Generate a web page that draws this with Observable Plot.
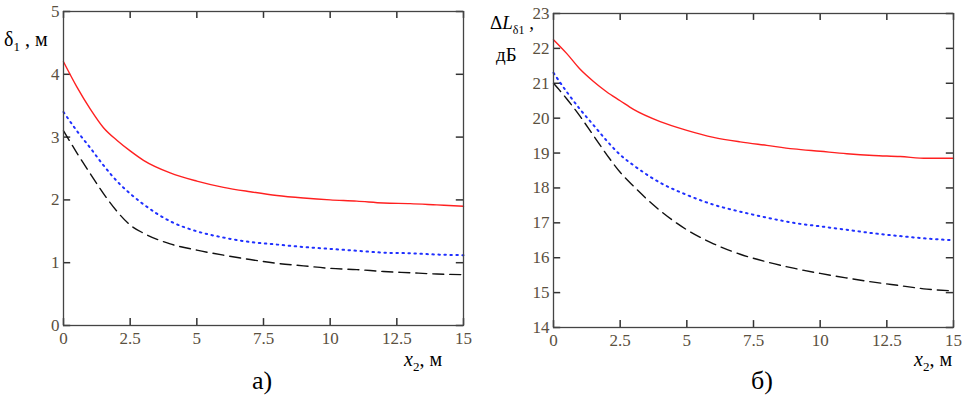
<!DOCTYPE html>
<html><head><meta charset="utf-8">
<script src="https://cdn.jsdelivr.net/npm/d3@7"></script>
<script src="https://cdn.jsdelivr.net/npm/@observablehq/plot@0.6"></script>
<style>
body{margin:0;background:#fff;font-family:"Liberation Serif","DejaVu Serif",serif;}
#wrap{position:relative;width:979px;height:403px;}
.p{position:absolute;top:0;}
.t{position:absolute;color:#000;font-family:"Liberation Serif","DejaVu Serif",serif;white-space:nowrap;}
</style></head><body>
<div id="wrap">
<div class="p" id="a" style="left:0"></div>
<div class="p" id="b" style="left:490px"></div>
<div class="t" style="left:4px;top:28px;font-size:20px">δ<sub style="font-size:13px">1</sub> , м</div>
<div class="t" style="left:404px;top:348px;font-size:20px"><i>x</i><sub style="font-size:13px">2</sub>, м</div>
<div class="t" style="left:252px;top:366px;font-size:26px">а)</div>
<div class="t" style="left:490px;top:12px;font-size:19px">Δ<i>L</i><sub style="font-size:12px">δ1</sub> ,</div>
<div class="t" style="left:496px;top:44px;font-size:19px">дБ</div>
<div class="t" style="left:914px;top:348px;font-size:20px"><i>x</i><sub style="font-size:13px">2</sub>, м</div>
<div class="t" style="left:751px;top:366px;font-size:26px">б)</div>
</div>
<script>
const xs = [0,0.5,1,1.5,2,2.5,3,4,5,6,7,8,9,10,11,12,13,14,15];
const xTicks = [0,2.5,5,7.5,10,12.5,15];
const xTickLabels = ["0","2.5","5","7.5","10","12.5","15"];
const aRed   = [4.2,3.8,3.45,3.15,2.95,2.78,2.63,2.43,2.3,2.2,2.13,2.07,2.03,2.0,1.98,1.95,1.94,1.92,1.9];
const aBlue  = [3.4,3.1,2.83,2.55,2.3,2.1,1.93,1.66,1.5,1.4,1.33,1.29,1.25,1.22,1.19,1.16,1.15,1.13,1.12];
const aBlack = [3.1,2.75,2.42,2.1,1.82,1.6,1.47,1.3,1.2,1.12,1.05,0.99,0.95,0.91,0.89,0.86,0.84,0.82,0.81];
const aYTicks = [0,1,2,3,4,5];
const bRed   = [22.25,21.85,21.4,21.05,20.75,20.5,20.25,19.9,19.65,19.45,19.32,19.22,19.12,19.05,18.98,18.93,18.9,18.85,18.85];
const bBlue  = [21.3,20.75,20.25,19.8,19.35,18.95,18.65,18.15,17.8,17.52,17.32,17.15,17.0,16.9,16.8,16.7,16.62,16.55,16.5];
const bBlack = [21.0,20.55,20.05,19.5,18.95,18.45,18.05,17.35,16.8,16.4,16.1,15.88,15.7,15.55,15.42,15.3,15.2,15.1,15.05];
const bYTicks = [14,15,16,17,18,19,20,21,22,23];

function panel(el, w, ml, mr, mt, mb, yDom, yTicks, red, blue, black) {
  const tx = 0.27, ty = (yDom[1]-yDom[0]) * 0.022;
  const rows = s => xs.map((x,i)=>({x, y:s[i]}));
  const p = Plot.plot({
    width: w, height: 403, marginLeft: ml, marginRight: mr, marginTop: mt, marginBottom: mb,
    style: {fontFamily: "'Liberation Serif', 'DejaVu Serif', serif", fontSize: "17px", color: "#5a5040", background: "#fff"},
    x: {domain: [0,15], ticks: xTicks, tickFormat: (d,i)=>xTickLabels[i], tickSize: 0, tickPadding: 6, label: null},
    y: {domain: yDom, ticks: yTicks, tickFormat: d=>String(d), tickSize: 0, tickPadding: 4, label: null},
    marks: [
      Plot.ruleY(yTicks, {y: d=>d, x1: 0, x2: tx, stroke: "#333", strokeWidth: 1.5}),
      Plot.ruleY(yTicks, {y: d=>d, x1: 15-tx, x2: 15, stroke: "#333", strokeWidth: 1.5}),
      Plot.ruleX(xTicks, {x: d=>d, y1: yDom[0], y2: yDom[0]+ty, stroke: "#333", strokeWidth: 1.5}),
      Plot.ruleX(xTicks, {x: d=>d, y1: yDom[1]-ty, y2: yDom[1], stroke: "#333", strokeWidth: 1.5}),
      Plot.line(rows(red), {x:"x", y:"y", stroke:"#ff2020", strokeWidth:1.4, curve:"monotone-x"}),
      Plot.line(rows(blue), {x:"x", y:"y", stroke:"#2030ff", strokeWidth:2, strokeDasharray:"1.5,4.5", curve:"monotone-x"}),
      Plot.line(rows(black), {x:"x", y:"y", stroke:"#111", strokeWidth:1.4, strokeDasharray:"11,6", curve:"monotone-x"}),
      Plot.frame({stroke:"#444", strokeWidth:1.3})
    ]
  });
  document.getElementById(el).appendChild(p);
}
panel("a", 490, 63, 27, 11, 78, [0,5], aYTicks, aRed, aBlue, aBlack);
panel("b", 489, 63, 26, 13, 76, [14,23], bYTicks, bRed, bBlue, bBlack);
</script>
</body></html>
